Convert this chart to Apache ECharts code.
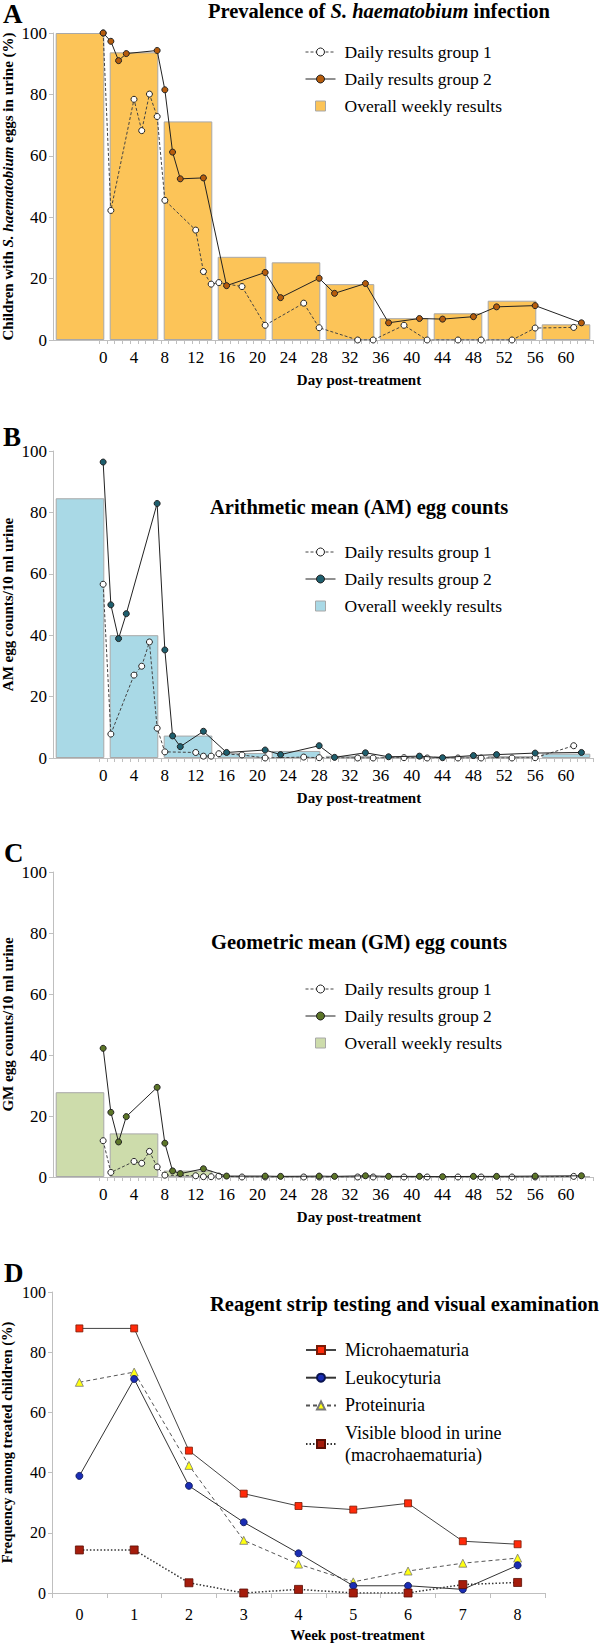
<!DOCTYPE html>
<html>
<head>
<meta charset="utf-8">
<script src="https://cdn.jsdelivr.net/npm/echarts@6/dist/echarts.min.js"></script>
<style>
html,body{margin:0;padding:0;background:#fff;}
#chart{width:600px;height:1643px;}
</style>
</head>
<body>
<div id="chart"></div>
<script>
// ---------- data ----------
const dayCategories = [];
for (let d = -6; d <= 63; d++) dayCategories.push(String(d));
const weekCategories = ['pre', 'w1', 'w2', 'w3', 'w4', 'w5', 'w6', 'w7', 'w8', 'w9'];

const group1Days = [0,1,4,5,6,7,8,12,13,14,15,18,21,26,28,33,35,39,42,46,49,53,56,61];
const group2Days = [0,1,2,3,7,8,9,10,13,16,21,23,28,30,34,37,41,44,48,51,56,62];

// Panel A: prevalence (%)
const prevG1 = [100,42.2,78.4,68.2,80.1,72.8,45.5,35.8,22.3,18.2,18.7,17.4,4.8,12.0,4.0,0,0,4.8,0,0,0,0,3.9,4.1];
const prevG2 = [100,97.3,91.0,93.3,94.3,81.5,61.2,52.5,52.8,17.7,22.0,13.8,20.1,15.2,18.4,5.6,7.0,6.8,7.6,10.8,11.2,5.6];
const prevWeekly = [100,93.7,71.2,27.1,25.3,18.2,7.1,8.7,12.8,5.1];

// Panel B: arithmetic mean egg counts
const amG1 = [56.6,7.8,27.0,29.9,37.8,9.7,2.0,1.8,0.6,0.6,1.4,1.0,0,0.3,0.1,0,0,0.1,0,0,0,0,0.1,4.0];
const amG2 = [96.4,49.9,38.9,47.0,82.9,35.2,7.2,3.7,8.7,1.8,2.6,1.1,4.0,0.2,1.7,0.4,0.6,0.1,0.8,1.1,1.6,1.8];
const amWeekly = [84.6,40.0,7.3,1.6,2.3,0.7,0.4,0.5,0.6,1.4];

// Panel C: geometric mean egg counts
const gmG1 = [11.9,1.5,5.1,4.5,8.4,3.3,0.6,0.4,0.1,0.1,0.3,0,0,0,0,0,0,0,0,0,0,0,0,0.2];
const gmG2 = [42.2,21.2,11.5,19.8,29.4,11.1,2.0,1.1,2.7,0.3,0.3,0.2,0.3,0.2,0.4,0.2,0.2,0.1,0.2,0.2,0.3,0.4];
const gmWeekly = [27.8,14.3,2.1,0.3,0.2,0.1,0.1,0.1,0.1,0.2];

// Panel D: reagent strip (%)
const weekLabels = ['0','1','2','3','4','5','6','7','8'];
const microHaem = [87.9,87.9,47.3,33.0,28.9,27.7,29.8,17.2,16.2];
const leuko = [38.9,71.1,35.6,23.5,13.2,2.4,2.4,1.2,9.2];
const protein = [70.0,73.4,42.4,17.5,9.6,3.7,7.3,9.9,11.6];
const visibleBlood = [14.3,14.3,3.4,0,1.2,0,0,2.8,3.5];

// ---------- helpers ----------
const SERIF = 'Liberation Serif';
function toDaily(days, vals) {
  const arr = dayCategories.map(() => null);
  days.forEach((d, i) => { arr[d + 6] = vals[i]; });
  return arr;
}

const grids = [
  {left: 53, top: 33, width: 540, height: 307, outerBoundsMode: 'none', containLabel: false},
  {left: 53, top: 451, width: 540, height: 307, outerBoundsMode: 'none', containLabel: false},
  {left: 53, top: 872, width: 540, height: 305, outerBoundsMode: 'none', containLabel: false},
  {left: 52, top: 1292, width: 493, height: 301, outerBoundsMode: 'none', containLabel: false}
];

const axisGray = '#bfbfbf';

function yAxisFor(gi, name, fs, nfs) {
  return {
    type: 'value', gridIndex: gi, min: 0, max: 100, interval: 20,
    axisLine: {show: true, lineStyle: {color: axisGray}},
    axisTick: {show: true, length: 4, lineStyle: {color: axisGray}},
    splitLine: {show: false},
    axisLabel: {fontFamily: SERIF, fontSize: fs, color: '#000', margin: 6},
    name: name, nameLocation: 'middle', nameGap: 38, nameMoveOverlap: false,
    nameTextStyle: {fontFamily: SERIF, fontSize: nfs, fontWeight: 'bold', color: '#000',
      rich: {i: {fontFamily: SERIF, fontSize: nfs, fontWeight: 'bold', fontStyle: 'italic', color: '#000'}}}
  };
}
function dayAxis(gi) {
  return {
    type: 'category', gridIndex: gi, data: dayCategories, boundaryGap: true,
    axisLine: {show: true, lineStyle: {color: axisGray}},
    axisTick: {show: true, length: 4, interval: (i) => i >= 6, lineStyle: {color: axisGray}},
    axisLabel: {interval: (i, v) => (+v >= 0 && +v % 4 === 0), fontFamily: SERIF, fontSize: 17, color: '#000', margin: 9},
    name: 'Day post-treatment', nameLocation: 'middle', nameGap: 32,
    nameTextStyle: {fontFamily: SERIF, fontSize: 15, fontWeight: 'bold', color: '#000', padding: [0, 0, 0, 72]}
  };
}
function weekAxis(gi) {
  return {type: 'category', gridIndex: gi, data: weekCategories, show: false, boundaryGap: true};
}

function dailySeries(xi, yi, name, days, vals, dashed, fill, z) {
  return {
    type: 'line', name: name, xAxisIndex: xi, yAxisIndex: yi,
    data: toDaily(days, vals), connectNulls: true, showAllSymbol: true,
    symbol: 'circle', symbolSize: 6, z: z,
    lineStyle: {color: dashed ? '#444' : '#222', width: 1, type: dashed ? [3, 2] : 'solid'},
    itemStyle: {color: fill, borderColor: '#222', borderWidth: 1},
    emphasis: {disabled: true}
  };
}
function weeklySeries(xi, yi, vals, color) {
  return {
    type: 'bar', name: 'Overall weekly results', xAxisIndex: xi, yAxisIndex: yi,
    data: vals, barCategoryGap: '10%', z: 1,
    itemStyle: {color: color, borderColor: '#a8a8a8', borderWidth: 1},
    emphasis: {disabled: true}
  };
}

const panelColors = [
  {bar: '#fcc458', dot: '#b65c0c'},
  {bar: '#a9d9e6', dot: '#1e5f6e'},
  {bar: '#cddcab', dot: '#5c7527'}
];

function legendFor(top, pc) {
  return {
    left: 305, top: top, padding: 0, orient: 'vertical', itemWidth: 30, itemHeight: 10, itemGap: 9,
    selectedMode: false,
    textStyle: {fontFamily: SERIF, fontSize: 17.5, color: '#000', lineHeight: 18, padding: [0, 0, 0, 4]},
    data: [
      {name: 'Daily results group 1', itemStyle: {color: '#fff', borderColor: '#222', borderWidth: 1}, lineStyle: {color: '#444', width: 1, type: [3, 2]}},
      {name: 'Daily results group 2', itemStyle: {color: pc.dot, borderColor: '#222', borderWidth: 1}, lineStyle: {color: '#222', width: 1, type: 'solid'}},
      {name: 'Overall weekly results', icon: 'path://M0,0L10,0L10,10L0,10Z', itemStyle: {color: pc.bar, borderColor: '#a8a8a8', borderWidth: 1}}
    ]
  };
}

const titleStyle = (fs) => ({fontFamily: SERIF, fontSize: fs, fontWeight: 'bold', color: '#000',
  rich: {i: {fontFamily: SERIF, fontSize: fs, fontWeight: 'bold', fontStyle: 'italic', color: '#000'}}});

const option = {
  animation: false,
  backgroundColor: '#fff',
  title: [
    {text: 'A', left: 3, top: 0, padding: 0, textStyle: titleStyle(27)},
    {text: 'Prevalence of {i|S. haematobium} infection', left: 208, top: 0, padding: 0, textStyle: titleStyle(20.5)},
    {text: 'B', left: 3, top: 423, padding: 0, textStyle: titleStyle(27)},
    {text: 'Arithmetic mean (AM) egg counts', left: 210, top: 496, padding: 0, textStyle: titleStyle(20.5)},
    {text: 'C', left: 4, top: 839, padding: 0, textStyle: titleStyle(27)},
    {text: 'Geometric mean (GM) egg counts', left: 211, top: 931, padding: 0, textStyle: titleStyle(20.5)},
    {text: 'D', left: 4, top: 1259, padding: 0, textStyle: titleStyle(27)},
    {text: 'Reagent strip testing and visual examination', left: 210, top: 1293, padding: 0, textStyle: titleStyle(20.5)}
  ],
  legend: [
    legendFor(43, panelColors[0]),
    legendFor(543, panelColors[1]),
    legendFor(980, panelColors[2]),
    {
      left: 305, top: 1339, padding: 0, orient: 'vertical', itemWidth: 30, itemHeight: 10, itemGap: 5.7,
      selectedMode: false,
      textStyle: {fontFamily: SERIF, fontSize: 18, color: '#000', lineHeight: 22, padding: [0, 0, 0, 4]},
      data: ['Microhaematuria', 'Leukocyturia', 'Proteinuria', 'Visible blood in urine\n(macrohaematuria)']
    }
  ],
  grid: grids,
  xAxis: [
    dayAxis(0), weekAxis(0),
    dayAxis(1), weekAxis(1),
    dayAxis(2), weekAxis(2),
    {
      type: 'category', gridIndex: 3, data: weekLabels, boundaryGap: true,
      axisLine: {show: true, lineStyle: {color: axisGray}},
      axisTick: {show: true, length: 5, lineStyle: {color: axisGray}},
      axisLabel: {fontFamily: SERIF, fontSize: 16, color: '#000', margin: 13},
      name: 'Week post-treatment', nameLocation: 'middle', nameGap: 34,
      nameTextStyle: {fontFamily: SERIF, fontSize: 15, fontWeight: 'bold', color: '#000', padding: [0, 0, 0, 118]}
    }
  ],
  yAxis: [
    yAxisFor(0, 'Children with {i|S. haematobium} eggs in urine (%)', 17, 15),
    yAxisFor(1, 'AM egg counts/10 ml urine', 17, 15),
    yAxisFor(2, 'GM egg counts/10 ml urine', 17, 15),
    yAxisFor(3, 'Frequency among treated children (%)', 16, 14.5)
  ],
  series: [
    weeklySeries(1, 0, prevWeekly, panelColors[0].bar),
    dailySeries(0, 0, 'Daily results group 1', group1Days, prevG1, true, '#fff', 3),
    dailySeries(0, 0, 'Daily results group 2', group2Days, prevG2, false, panelColors[0].dot, 4),

    weeklySeries(3, 1, amWeekly, panelColors[1].bar),
    dailySeries(2, 1, 'Daily results group 1', group1Days, amG1, true, '#fff', 3),
    dailySeries(2, 1, 'Daily results group 2', group2Days, amG2, false, panelColors[1].dot, 4),

    weeklySeries(5, 2, gmWeekly, panelColors[2].bar),
    dailySeries(4, 2, 'Daily results group 1', group1Days, gmG1, true, '#fff', 3),
    dailySeries(4, 2, 'Daily results group 2', group2Days, gmG2, false, panelColors[2].dot, 4),

    {type: 'line', name: 'Microhaematuria', xAxisIndex: 6, yAxisIndex: 3, data: microHaem,
     symbol: 'rect', symbolSize: 7, z: 4,
     lineStyle: {color: '#444', width: 1}, itemStyle: {color: '#ff2a0a', borderColor: '#7a1a05', borderWidth: 0.8}},
    {type: 'line', name: 'Leukocyturia', xAxisIndex: 6, yAxisIndex: 3, data: leuko,
     symbol: 'circle', symbolSize: 7, z: 4,
     lineStyle: {color: '#333', width: 1}, itemStyle: {color: '#1a2db4', borderColor: '#0a1450', borderWidth: 0.8}},
    {type: 'line', name: 'Proteinuria', xAxisIndex: 6, yAxisIndex: 3, data: protein,
     symbol: 'triangle', symbolSize: 8, z: 3,
     lineStyle: {color: '#555', width: 1, type: [4, 3]}, itemStyle: {color: '#ffff10', borderColor: '#777', borderWidth: 0.8}},
    {type: 'line', name: 'Visible blood in urine\n(macrohaematuria)', xAxisIndex: 6, yAxisIndex: 3, data: visibleBlood,
     symbol: 'rect', symbolSize: 8, z: 5,
     lineStyle: {color: '#333', width: 1.5, type: [1.5, 2]}, itemStyle: {color: '#a51c0c', borderColor: '#5a0e05', borderWidth: 0.8}}
  ]
};

const chart = echarts.init(document.getElementById('chart'), null, {renderer: 'svg', width: 600, height: 1643});
chart.setOption(option);
</script>
</body>
</html>
